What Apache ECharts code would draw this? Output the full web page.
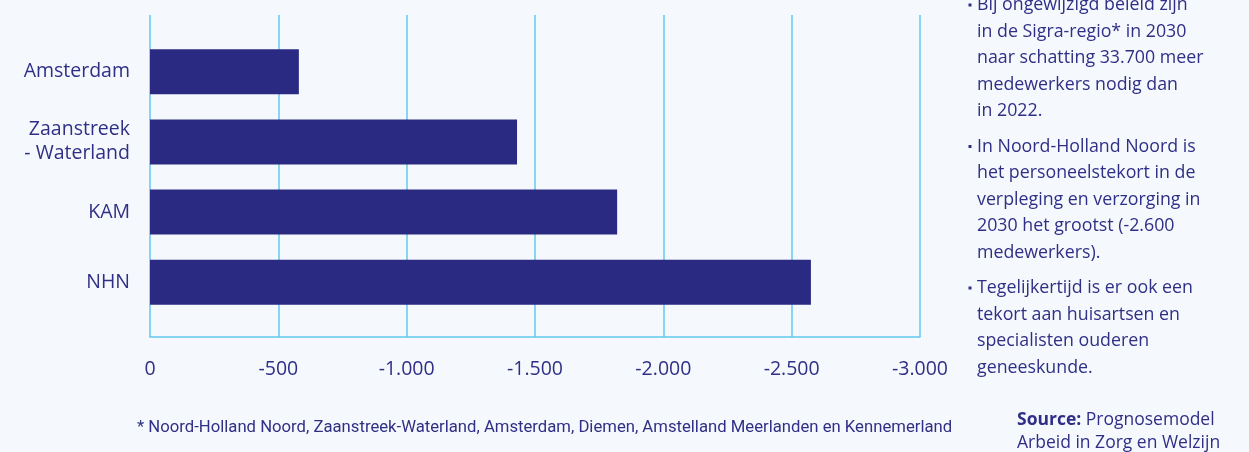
<!DOCTYPE html>
<html>
<head>
<meta charset="utf-8">
<script src="https://cdn.jsdelivr.net/npm/echarts@6/dist/echarts.min.js"></script>
<style>
html,body{margin:0;padding:0;background:#f5f9fd;}
#chart{width:1249px;height:452px;}
</style>
</head>
<body>
<div id="chart"></div>
<script>
// ---- data ----
const categories = ['Amsterdam', 'Zaanstreek\n- Waterland', 'KAM', 'NHN'];
const values = [-580, -1430, -1820, -2575];
const axisMin = -3000;
const axisMax = 0;
const axisInterval = 500;

const bulletParagraphs = [
  ['Bij ongewijzigd beleid zijn', 'in de Sigra-regio* in 2030', 'naar schatting 33.700 meer', 'medewerkers nodig dan', 'in 2022.'],
  ['In Noord-Holland Noord is', 'het personeelstekort in de', 'verpleging en verzorging in', '2030 het grootst (-2.600', 'medewerkers).'],
  ['Tegelijkertijd is er ook een', 'tekort aan huisartsen en', 'specialisten ouderen', 'geneeskunde.']
];
const footnote = '* Noord-Holland Noord, Zaanstreek-Waterland, Amsterdam, Diemen, Amstelland Meerlanden en Kennemerland';
const sourceLabel = 'Source:';
const sourceLines = ['Prognosemodel', 'Arbeid in Zorg en Welzijn'];

// ---- styling ----
const TXT = '#2f2f86';
const BAR = '#2a2a82';
const GRID = '#63c7ee';
const FONT = 'Open Sans';

function fmt(v) {
  const neg = v < 0;
  let s = String(Math.abs(Math.round(v)));
  s = s.replace(/\B(?=(\d{3})+(?!\d))/g, '.');
  return (neg ? '-' : '') + s;
}

const graphics = [];
let y = 5;
const lh = 26.5;
bulletParagraphs.forEach((para) => {
  graphics.push({type: 'rect', shape: {x: 968.5, y: y - 1.5, width: 3, height: 3}, style: {fill: TXT}});
  para.forEach((line) => {
    graphics.push({type: 'text', x: 977, y: y, style: {text: line, font: `17.8px "${FONT}"`, fill: TXT, textVerticalAlign: 'middle'}});
    y += lh;
  });
  y += 9;
});
graphics.push({type: 'text', x: 137, y: 428, style: {text: footnote, font: `16.7px Roboto`, fill: TXT, textVerticalAlign: 'middle'}});
graphics.push({type: 'text', x: 1017, y: 420, style: {
  text: '{b|' + sourceLabel + '} ' + sourceLines[0],
  font: `17.5px "${FONT}"`, fill: TXT, textVerticalAlign: 'middle',
  rich: {b: {fontWeight: 'bold', fontFamily: FONT, fontSize: 17.5, fill: TXT}}
}});
graphics.push({type: 'text', x: 1017, y: 443, style: {
  text: sourceLines[1], font: `17.5px "${FONT}"`, fill: TXT, textVerticalAlign: 'middle'
}});

const chart = echarts.init(document.getElementById('chart'));
chart.setOption({
  backgroundColor: '#f5f9fd',
  animation: false,
  grid: [
    {left: 150, width: 770, top: 15, height: 322},
    {left: 150, width: 770, top: 36.6, height: 280.8}
  ],
  xAxis: [
    {
      gridIndex: 0, type: 'value', min: axisMin, max: axisMax, interval: axisInterval, inverse: true,
      axisLine: {show: true, lineStyle: {color: GRID, width: 1.5}},
      axisTick: {show: false},
      splitLine: {show: true, lineStyle: {color: GRID, width: 1.5}},
      axisLabel: {color: TXT, fontFamily: FONT, fontSize: 19.5, margin: 22, formatter: fmt}
    },
    {
      gridIndex: 1, type: 'value', min: axisMin, max: axisMax, inverse: true, show: false,
      splitLine: {show: false}
    }
  ],
  yAxis: [
    {gridIndex: 0, type: 'value', show: false, splitLine: {show: false}},
    {
      gridIndex: 1, type: 'category', data: categories, inverse: true,
      axisLine: {show: false}, axisTick: {show: false},
      axisLabel: {color: TXT, fontFamily: FONT, fontSize: 19.5, margin: 20, lineHeight: 24, align: 'right'}
    }
  ],
  series: [{
    type: 'bar', xAxisIndex: 1, yAxisIndex: 1, data: values, barWidth: 45,
    itemStyle: {color: BAR}
  }],
  graphic: graphics
});
</script>
</body>
</html>
